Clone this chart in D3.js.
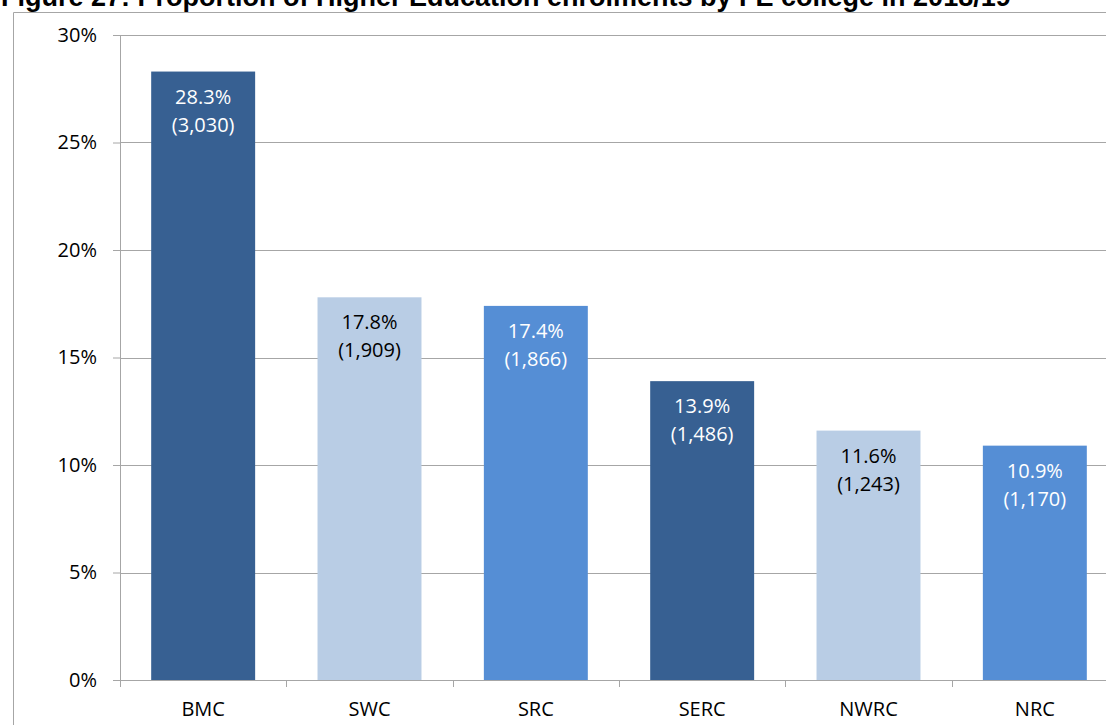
<!DOCTYPE html>
<html>
<head>
<meta charset="utf-8">
<script src="https://cdn.jsdelivr.net/npm/d3@7"></script>
<style>
  body { margin: 0; background: #fff; overflow: hidden; }
  svg { display: block; }
</style>
</head>
<body>
<div id="chart"></div>
<script>
// data
var colleges = ["BMC", "SWC", "SRC", "SERC", "NWRC", "NRC"];
var shares = [28.3, 17.8, 17.4, 13.9, 11.6, 10.9];
var counts = ["3,030", "1,909", "1,866", "1,486", "1,243", "1,170"];
var yTicks = [0, 5, 10, 15, 20, 25, 30];
var title = "Figure 27: Proportion of Higher Education enrolments by FE college in 2018/19";

var fills = ["#376092", "#B9CDE5", "#558ED5"];
var textFill = ["#fff", "#000", "#fff"];

var W = 1106, H = 725;
var margin = {top: 35, right: -12, bottom: 45, left: 120};
var width = W - margin.left - margin.right;
var height = H - margin.top - margin.bottom;
var font = "Open Sans, Noto Sans, sans-serif";

var svg = d3.select("#chart").append("svg")
	.attr("width", W)
	.attr("height", H);

// title, cut off at the top like the original
svg.append("text")
	.attr("x", 1)
	.attr("y", 6)
	.style("font-family", "Liberation Sans, Arial, sans-serif")
	.style("font-weight", "bold")
	.style("font-size", "27px")
	.text(title);

// chart frame
svg.append("path")
	.attr("d", "M13.5," + H + "V12.5H" + W)
	.attr("fill", "none")
	.attr("stroke", "#a6a6a6")
	.attr("stroke-width", 1);

var g = svg.append("g")
	.attr("transform", "translate(" + margin.left + "," + margin.top + ")");

var x = d3.scaleBand()
	.domain(colleges)
	.range([0, width])
	.paddingInner(0.375)
	.paddingOuter(0.1875);

var y = d3.scaleLinear()
	.domain([0, 30])
	.range([height, 0]);

// gridlines
g.selectAll(".grid")
	.data(yTicks.slice(1))
	.enter().append("line")
	.attr("class", "grid")
	.attr("x1", 0)
	.attr("x2", width)
	.attr("y1", function(d) { return Math.round(y(d)) + 0.5; })
	.attr("y2", function(d) { return Math.round(y(d)) + 0.5; })
	.attr("stroke", "#a6a6a6");

// bars
g.selectAll(".bar")
	.data(shares)
	.enter().append("rect")
	.attr("class", "bar")
	.attr("x", function(d, i) { return x(colleges[i]); })
	.attr("y", function(d) { return y(d); })
	.attr("width", x.bandwidth())
	.attr("height", function(d) { return height - y(d); })
	.attr("fill", function(d, i) { return fills[i % 3]; });

// y axis
var yAxis = g.append("g")
	.call(d3.axisLeft(y).tickValues(yTicks).tickSize(7).tickPadding(16)
		.tickFormat(function(d) { return d + "%"; }));

// x axis
var step = width / colleges.length;
var xAxis = g.append("g")
	.attr("transform", "translate(0," + height + ")")
	.call(d3.axisBottom(x).tickSize(0).tickPadding(22));

xAxis.selectAll(".sep")
	.data(d3.range(colleges.length + 1))
	.enter().append("line")
	.attr("class", "sep")
	.attr("x1", function(d) { return Math.round(d * step) + 0.5; })
	.attr("x2", function(d) { return Math.round(d * step) + 0.5; })
	.attr("y1", 0)
	.attr("y2", 7)
	.attr("stroke", "#a6a6a6");

[yAxis, xAxis].forEach(function(a) {
	a.selectAll("path, line").attr("stroke", "#a6a6a6");
	a.select(".domain").attr("stroke", "#a6a6a6");
	a.selectAll("text")
		.style("font-family", font)
		.style("font-size", "20px")
		.attr("fill", "#000");
});
yAxis.select(".domain").attr("d", "M0.5,0V" + height);

// value labels
var labels = g.selectAll(".lbl")
	.data(shares)
	.enter().append("text")
	.attr("class", "lbl")
	.attr("text-anchor", "middle")
	.attr("x", function(d, i) { return x(colleges[i]) + x.bandwidth() / 2; })
	.attr("y", function(d) { return y(d) + 32; })
	.attr("fill", function(d, i) { return textFill[i % 3]; })
	.style("font-family", font)
	.style("font-size", "20px");

labels.append("tspan")
	.text(function(d) { return d.toFixed(1) + "%"; });
labels.append("tspan")
	.attr("x", function(d, i) { return x(colleges[i]) + x.bandwidth() / 2; })
	.attr("dy", 28)
	.text(function(d, i) { return "(" + counts[i] + ")"; });
</script>
</body>
</html>
